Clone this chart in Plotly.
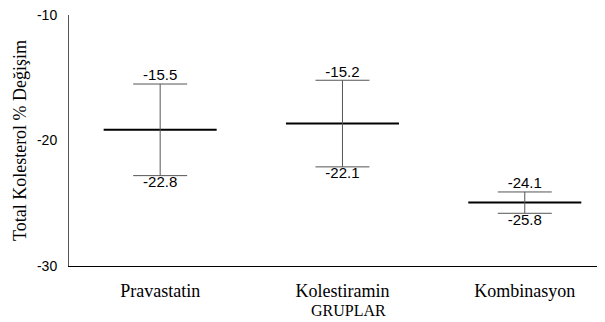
import plotly.graph_objects as go

groups = ["Pravastatin", "Kolestiramin", "Kombinasyon"]
upper = [-15.5, -15.2, -24.1]
lower = [-22.8, -22.1, -25.8]
means = [-19.15, -18.65, -24.95]
y_ticks = [-10, -20, -30]

xs = list(range(len(groups)))
half = 0.31

fig = go.Figure()

# mean lines
mx, my = [], []
for i, m in zip(xs, means):
    mx += [i - half, i + half, None]
    my += [m, m, None]
fig.add_trace(go.Scatter(x=mx, y=my, mode="lines",
                         line=dict(color="black", width=2), hoverinfo="skip"))

# error bars (CI)
fig.add_trace(go.Scatter(
    x=xs, y=means, mode="markers", marker=dict(size=1, color="rgba(0,0,0,0)"),
    error_y=dict(type="data", symmetric=False,
                 array=[u - m for u, m in zip(upper, means)],
                 arrayminus=[m - l for l, m in zip(lower, means)],
                 width=27, thickness=1, color="#555555"),
    hoverinfo="skip"))

# labels
lab_font = dict(family="Liberation Sans, Arial", size=15, color="black")
fig.add_trace(go.Scatter(x=xs, y=upper, mode="text",
                         text=[f"{v:.1f}" for v in upper], textposition="top center",
                         textfont=lab_font))
fig.add_trace(go.Scatter(x=xs, y=lower, mode="text",
                         text=[f"{v:.1f}" for v in lower], textposition="bottom center",
                         textfont=lab_font))

fig.add_annotation(text="GRUPLAR", xref="paper", yref="paper", x=0.522, y=0,
                   yshift=-44, showarrow=False, xanchor="center", yanchor="middle",
                   font=dict(family="Liberation Serif, Times New Roman", size=16, color="black"))

fig.update_layout(
    width=597, height=314,
    margin=dict(l=61, r=0, t=7, b=56),
    paper_bgcolor="white", plot_bgcolor="white",
    showlegend=False,
    xaxis=dict(range=[-0.5, 2.44], tickvals=xs, ticktext=groups,
               showgrid=False, zeroline=False, showline=True, linecolor="black", linewidth=1,
               ticks="", ticklabelstandoff=8,
               tickfont=dict(family="Liberation Serif, Times New Roman", size=18, color="black")),
    yaxis=dict(range=[-30, -10], tickvals=y_ticks, ticktext=[str(v) for v in y_ticks],
               showgrid=False, zeroline=False, showline=True, linecolor="#555555", linewidth=1,
               ticks="", ticklabelstandoff=8, ticklabeloverflow="allow",
               tickfont=dict(family="Liberation Sans, Arial", size=14, color="black"),
               title=dict(text="Total Kolesterol % Değişim", standoff=5,
                          font=dict(family="Liberation Serif, Times New Roman", size=18, color="black"))),
)

fig.write_html("out.html")
